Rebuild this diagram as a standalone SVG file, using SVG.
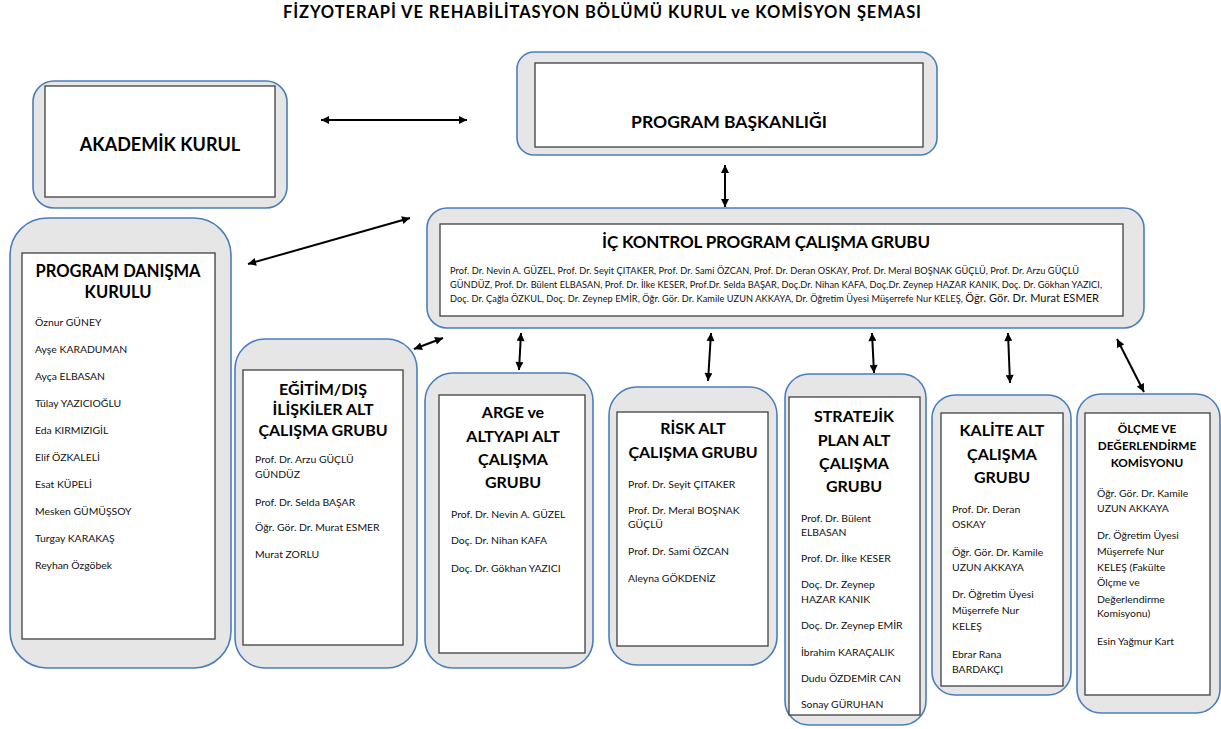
<svg xmlns="http://www.w3.org/2000/svg" width="1221" height="729" viewBox="0 0 1221 729">
<defs>
<marker id="ah" viewBox="0 0 10 10" refX="10" refY="5" markerWidth="9" markerHeight="8" markerUnits="userSpaceOnUse" orient="auto-start-reverse">
<path d="M0,0 L10,5 L0,10 z" fill="#000"/>
</marker>
</defs>
<style>
.outer{fill:#e6e6e6;stroke:#4a7ebb;stroke-width:1.6}
.inner{fill:#fff;stroke:#404040;stroke-width:1.3}
.t{font-family:Lato,"Liberation Sans",sans-serif;font-weight:bold;fill:#000;text-anchor:middle;font-size:16px}
.m{font-family:Lato,"Liberation Sans",sans-serif;font-size:10.4px;fill:#111}
.conn line{stroke:#000;stroke-width:2;marker-start:url(#ah);marker-end:url(#ah)}
</style>
<rect width="1221" height="729" fill="#fff"/>
<text class="t" x="602" y="18" style="font-size:16.5px" textLength="638">FİZYOTERAPİ VE REHABİLİTASYON BÖLÜMÜ KURUL ve KOMİSYON ŞEMASI</text>

<g id="akademik-kurul">
<rect class="outer" x="33" y="81" width="254" height="127" rx="21"/>
<rect class="inner" x="45" y="86" width="230" height="111"/>
<text class="t" x="160" y="151" style="font-size:18px">AKADEMİK KURUL</text>
</g>

<g id="program-baskanligi">
<rect class="outer" x="517" y="52" width="420" height="103" rx="17"/>
<rect class="inner" x="535" y="63" width="388" height="84"/>
<text class="t" x="729" y="128" style="font-size:17.5px">PROGRAM BAŞKANLIĞI</text>
</g>

<g id="ic-kontrol">
<rect class="outer" x="427" y="208" width="717" height="120" rx="20"/>
<rect class="inner" x="440" y="224" width="683" height="92"/>
<text class="t" x="766" y="248" style="font-size:17px" textLength="328">İÇ KONTROL PROGRAM ÇALIŞMA GRUBU</text>
<text class="m" x="450" y="274" style="font-size:9.2px" textLength="629">Prof. Dr. Nevin A. GÜZEL, Prof. Dr. Seyit ÇITAKER, Prof. Dr. Sami ÖZCAN, Prof. Dr. Deran OSKAY, Prof. Dr. Meral BOŞNAK GÜÇLÜ, Prof. Dr. Arzu GÜÇLÜ</text>
<text class="m" x="450" y="288" style="font-size:9.2px" textLength="652">GÜNDÜZ, Prof. Dr. Bülent ELBASAN, Prof. Dr. İlke KESER, Prof.Dr. Selda BAŞAR, Doç.Dr. Nihan KAFA, Doç.Dr. Zeynep HAZAR KANIK, Doç. Dr. Gökhan YAZICI,</text>
<text class="m" x="450" y="302" style="font-size:9.2px" textLength="649">Doç. Dr. Çağla ÖZKUL, Doç. Dr. Zeynep EMİR, Öğr. Gör. Dr. Kamile UZUN AKKAYA, Dr. Öğretim Üyesi Müşerrefe Nur KELEŞ, <tspan style="font-size:11px">Öğr. Gör. Dr. Murat ESMER</tspan></text>
</g>

<g id="program-danisma-kurulu">
<rect class="outer" x="10" y="218" width="221" height="450" rx="37"/>
<rect class="inner" x="22" y="253" width="193" height="386"/>
<text class="t" x="118" y="277" style="font-size:16.5px">PROGRAM DANIŞMA</text>
<text class="t" x="118" y="298" style="font-size:16.5px">KURULU</text>
<text class="m" x="35" y="326">Öznur GÜNEY</text>
<text class="m" x="35" y="353">Ayşe KARADUMAN</text>
<text class="m" x="35" y="380">Ayça ELBASAN</text>
<text class="m" x="35" y="407">Tülay YAZICIOĞLU</text>
<text class="m" x="35" y="434">Eda KIRMIZIGİL</text>
<text class="m" x="35" y="461">Elif ÖZKALELİ</text>
<text class="m" x="35" y="488">Esat KÜPELİ</text>
<text class="m" x="35" y="515">Mesken GÜMÜŞSOY</text>
<text class="m" x="35" y="542">Turgay KARAKAŞ</text>
<text class="m" x="35" y="569">Reyhan Özgöbek</text>
</g>

<g id="egitim-dis-iliskiler">
<rect class="outer" x="235" y="339" width="182" height="329" rx="30"/>
<rect class="inner" x="243" y="370" width="160" height="275"/>
<text class="t" x="323" y="395">EĞİTİM/DIŞ</text>
<text class="t" x="323" y="415">İLİŞKİLER ALT</text>
<text class="t" x="323" y="436">ÇALIŞMA GRUBU</text>
<text class="m" x="255" y="463">Prof. Dr. Arzu GÜÇLÜ</text>
<text class="m" x="255" y="478">GÜNDÜZ</text>
<text class="m" x="255" y="506">Prof. Dr. Selda BAŞAR</text>
<text class="m" x="255" y="531">Öğr. Gör. Dr. Murat ESMER</text>
<text class="m" x="255" y="558">Murat ZORLU</text>
</g>

<g id="arge-altyapi">
<rect class="outer" x="425" y="373" width="168" height="295" rx="28"/>
<rect class="inner" x="439" y="395" width="146" height="258"/>
<text class="t" x="513" y="418">ARGE ve</text>
<text class="t" x="513" y="442">ALTYAPI ALT</text>
<text class="t" x="513" y="465">ÇALIŞMA</text>
<text class="t" x="513" y="488">GRUBU</text>
<text class="m" x="451" y="518">Prof. Dr. Nevin A. GÜZEL</text>
<text class="m" x="451" y="544">Doç. Dr. Nihan KAFA</text>
<text class="m" x="451" y="572">Doç. Dr. Gökhan YAZICI</text>
</g>

<g id="risk">
<rect class="outer" x="609" y="387" width="168" height="278" rx="28"/>
<rect class="inner" x="617" y="412" width="151" height="234"/>
<text class="t" x="693" y="434">RİSK ALT</text>
<text class="t" x="693" y="458">ÇALIŞMA GRUBU</text>
<text class="m" x="628" y="488">Prof. Dr. Seyit ÇITAKER</text>
<text class="m" x="628" y="514">Prof. Dr. Meral BOŞNAK</text>
<text class="m" x="628" y="528">GÜÇLÜ</text>
<text class="m" x="628" y="555">Prof. Dr. Sami ÖZCAN</text>
<text class="m" x="628" y="582">Aleyna GÖKDENİZ</text>
</g>

<g id="stratejik-plan">
<rect class="outer" x="785" y="374" width="141" height="351" rx="24"/>
<rect class="inner" x="789" y="397" width="131" height="318"/>
<text class="t" x="854" y="422">STRATEJİK</text>
<text class="t" x="854" y="446">PLAN ALT</text>
<text class="t" x="854" y="469">ÇALIŞMA</text>
<text class="t" x="854" y="492">GRUBU</text>
<text class="m" x="801" y="522">Prof. Dr. Bülent</text>
<text class="m" x="801" y="536">ELBASAN</text>
<text class="m" x="801" y="562">Prof. Dr. İlke KESER</text>
<text class="m" x="801" y="588">Doç. Dr. Zeynep</text>
<text class="m" x="801" y="603">HAZAR KANIK</text>
<text class="m" x="801" y="629">Doç. Dr. Zeynep EMİR</text>
<text class="m" x="801" y="656">İbrahim KARAÇALIK</text>
<text class="m" x="801" y="682">Dudu ÖZDEMİR CAN</text>
<text class="m" x="801" y="708">Sonay GÜRUHAN</text>
</g>

<g id="kalite">
<rect class="outer" x="932" y="395" width="139" height="300" rx="23"/>
<rect class="inner" x="941" y="413" width="122" height="273"/>
<text class="t" x="1002" y="436">KALİTE ALT</text>
<text class="t" x="1002" y="460">ÇALIŞMA</text>
<text class="t" x="1002" y="483">GRUBU</text>
<text class="m" x="952" y="513">Prof. Dr. Deran</text>
<text class="m" x="952" y="528">OSKAY</text>
<text class="m" x="952" y="556">Öğr. Gör. Dr. Kamile</text>
<text class="m" x="952" y="571">UZUN AKKAYA</text>
<text class="m" x="952" y="598">Dr. Öğretim Üyesi</text>
<text class="m" x="952" y="614">Müşerrefe Nur</text>
<text class="m" x="952" y="630">KELEŞ</text>
<text class="m" x="952" y="658">Ebrar Rana</text>
<text class="m" x="952" y="673">BARDAKÇI</text>
</g>

<g id="olcme-degerlendirme">
<rect class="outer" x="1077" y="394" width="143" height="319" rx="24"/>
<rect class="inner" x="1085" y="413" width="125" height="282"/>
<text class="t" x="1147" y="433" style="font-size:11.8px">ÖLÇME VE</text>
<text class="t" x="1147" y="450" style="font-size:11.8px">DEĞERLENDİRME</text>
<text class="t" x="1147" y="467" style="font-size:11.8px">KOMİSYONU</text>
<text class="m" x="1097" y="497">Öğr. Gör. Dr. Kamile</text>
<text class="m" x="1097" y="512">UZUN AKKAYA</text>
<text class="m" x="1097" y="539">Dr. Öğretim Üyesi</text>
<text class="m" x="1097" y="555">Müşerrefe Nur</text>
<text class="m" x="1097" y="571">KELEŞ (Fakülte</text>
<text class="m" x="1097" y="586">Ölçme ve</text>
<text class="m" x="1097" y="603">Değerlendirme</text>
<text class="m" x="1097" y="617">Komisyonu)</text>
<text class="m" x="1097" y="645">Esin Yağmur Kart</text>
</g>

<g id="connectors" class="conn">
<line x1="321" y1="120" x2="467" y2="120"/>
<line x1="725" y1="165" x2="725" y2="207"/>
<line x1="248" y1="264" x2="410" y2="218"/>
<line x1="414" y1="349" x2="443" y2="338"/>
<line x1="521" y1="333" x2="519" y2="370"/>
<line x1="711" y1="333" x2="708" y2="381"/>
<line x1="872" y1="333" x2="874" y2="373"/>
<line x1="1008" y1="333" x2="1010" y2="383"/>
<line x1="1117" y1="339" x2="1144" y2="392"/>
</g>
</svg>
